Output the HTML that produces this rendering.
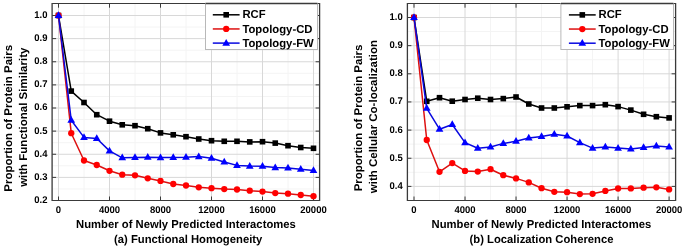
<!DOCTYPE html>
<html><head><meta charset="utf-8"><style>
html,body{margin:0;padding:0;background:#fff;}
body{width:685px;height:249px;overflow:hidden;}
svg{display:block;will-change:transform;} text{text-rendering:geometricPrecision;}
</style></head><body>
<svg width="685" height="249" viewBox="0 0 685 249">
<rect width="685" height="249" fill="#fff"/>
<line x1="84" y1="3.5" x2="84" y2="200.5" stroke="#f4f4f4" stroke-width="1"/>
<line x1="135" y1="3.5" x2="135" y2="200.5" stroke="#f4f4f4" stroke-width="1"/>
<line x1="186" y1="3.5" x2="186" y2="200.5" stroke="#f4f4f4" stroke-width="1"/>
<line x1="237" y1="3.5" x2="237" y2="200.5" stroke="#f4f4f4" stroke-width="1"/>
<line x1="288" y1="3.5" x2="288" y2="200.5" stroke="#f4f4f4" stroke-width="1"/>
<line x1="52.1" y1="188.94" x2="319.6" y2="188.94" stroke="#f4f4f4" stroke-width="1"/>
<line x1="52.1" y1="165.81" x2="319.6" y2="165.81" stroke="#f4f4f4" stroke-width="1"/>
<line x1="52.1" y1="142.69" x2="319.6" y2="142.69" stroke="#f4f4f4" stroke-width="1"/>
<line x1="52.1" y1="119.56" x2="319.6" y2="119.56" stroke="#f4f4f4" stroke-width="1"/>
<line x1="52.1" y1="96.44" x2="319.6" y2="96.44" stroke="#f4f4f4" stroke-width="1"/>
<line x1="52.1" y1="73.31" x2="319.6" y2="73.31" stroke="#f4f4f4" stroke-width="1"/>
<line x1="52.1" y1="50.19" x2="319.6" y2="50.19" stroke="#f4f4f4" stroke-width="1"/>
<line x1="52.1" y1="27.06" x2="319.6" y2="27.06" stroke="#f4f4f4" stroke-width="1"/>
<line x1="58.5" y1="3.5" x2="58.5" y2="200.5" stroke="#d8d8d8" stroke-width="1"/>
<line x1="109.5" y1="3.5" x2="109.5" y2="200.5" stroke="#d8d8d8" stroke-width="1"/>
<line x1="160.5" y1="3.5" x2="160.5" y2="200.5" stroke="#d8d8d8" stroke-width="1"/>
<line x1="211.5" y1="3.5" x2="211.5" y2="200.5" stroke="#d8d8d8" stroke-width="1"/>
<line x1="262.5" y1="3.5" x2="262.5" y2="200.5" stroke="#d8d8d8" stroke-width="1"/>
<line x1="313.5" y1="3.5" x2="313.5" y2="200.5" stroke="#d8d8d8" stroke-width="1"/>
<line x1="52.1" y1="200.5" x2="319.6" y2="200.5" stroke="#d8d8d8" stroke-width="1"/>
<line x1="52.1" y1="177.38" x2="319.6" y2="177.38" stroke="#d8d8d8" stroke-width="1"/>
<line x1="52.1" y1="154.25" x2="319.6" y2="154.25" stroke="#d8d8d8" stroke-width="1"/>
<line x1="52.1" y1="131.12" x2="319.6" y2="131.12" stroke="#d8d8d8" stroke-width="1"/>
<line x1="52.1" y1="108" x2="319.6" y2="108" stroke="#d8d8d8" stroke-width="1"/>
<line x1="52.1" y1="84.88" x2="319.6" y2="84.88" stroke="#d8d8d8" stroke-width="1"/>
<line x1="52.1" y1="61.75" x2="319.6" y2="61.75" stroke="#d8d8d8" stroke-width="1"/>
<line x1="52.1" y1="38.62" x2="319.6" y2="38.62" stroke="#d8d8d8" stroke-width="1"/>
<line x1="52.1" y1="15.5" x2="319.6" y2="15.5" stroke="#d8d8d8" stroke-width="1"/>
<line x1="58.5" y1="200.5" x2="58.5" y2="196.5" stroke="#3a3a3a" stroke-width="1"/>
<line x1="58.5" y1="3.5" x2="58.5" y2="7.7" stroke="#3a3a3a" stroke-width="1"/>
<text transform="translate(58.5,212.7) scale(1,1.02)" font-family="'Liberation Sans', sans-serif" font-weight="bold" font-size="9.5" text-anchor="middle">0</text>
<line x1="109.5" y1="200.5" x2="109.5" y2="196.5" stroke="#3a3a3a" stroke-width="1"/>
<line x1="109.5" y1="3.5" x2="109.5" y2="7.7" stroke="#3a3a3a" stroke-width="1"/>
<text transform="translate(109.5,212.7) scale(1,1.02)" font-family="'Liberation Sans', sans-serif" font-weight="bold" font-size="9.5" text-anchor="middle">4000</text>
<line x1="160.5" y1="200.5" x2="160.5" y2="196.5" stroke="#3a3a3a" stroke-width="1"/>
<line x1="160.5" y1="3.5" x2="160.5" y2="7.7" stroke="#3a3a3a" stroke-width="1"/>
<text transform="translate(160.5,212.7) scale(1,1.02)" font-family="'Liberation Sans', sans-serif" font-weight="bold" font-size="9.5" text-anchor="middle">8000</text>
<line x1="211.5" y1="200.5" x2="211.5" y2="196.5" stroke="#3a3a3a" stroke-width="1"/>
<line x1="211.5" y1="3.5" x2="211.5" y2="7.7" stroke="#3a3a3a" stroke-width="1"/>
<text transform="translate(211.5,212.7) scale(1,1.02)" font-family="'Liberation Sans', sans-serif" font-weight="bold" font-size="9.5" text-anchor="middle">12000</text>
<line x1="262.5" y1="200.5" x2="262.5" y2="196.5" stroke="#3a3a3a" stroke-width="1"/>
<line x1="262.5" y1="3.5" x2="262.5" y2="7.7" stroke="#3a3a3a" stroke-width="1"/>
<text transform="translate(262.5,212.7) scale(1,1.02)" font-family="'Liberation Sans', sans-serif" font-weight="bold" font-size="9.5" text-anchor="middle">16000</text>
<line x1="313.5" y1="200.5" x2="313.5" y2="196.5" stroke="#3a3a3a" stroke-width="1"/>
<line x1="313.5" y1="3.5" x2="313.5" y2="7.7" stroke="#3a3a3a" stroke-width="1"/>
<text transform="translate(313.5,212.7) scale(1,1.02)" font-family="'Liberation Sans', sans-serif" font-weight="bold" font-size="9.5" text-anchor="middle">20000</text>
<line x1="52.1" y1="200.5" x2="56.1" y2="200.5" stroke="#3a3a3a" stroke-width="1"/>
<line x1="319.6" y1="200.5" x2="315.6" y2="200.5" stroke="#3a3a3a" stroke-width="1"/>
<text transform="translate(47.5,202.9) scale(1,1.02)" font-family="'Liberation Sans', sans-serif" font-weight="bold" font-size="9.5" text-anchor="end">0.2</text>
<line x1="52.1" y1="177.38" x2="56.1" y2="177.38" stroke="#3a3a3a" stroke-width="1"/>
<line x1="319.6" y1="177.38" x2="315.6" y2="177.38" stroke="#3a3a3a" stroke-width="1"/>
<text transform="translate(47.5,179.78) scale(1,1.02)" font-family="'Liberation Sans', sans-serif" font-weight="bold" font-size="9.5" text-anchor="end">0.3</text>
<line x1="52.1" y1="154.25" x2="56.1" y2="154.25" stroke="#3a3a3a" stroke-width="1"/>
<line x1="319.6" y1="154.25" x2="315.6" y2="154.25" stroke="#3a3a3a" stroke-width="1"/>
<text transform="translate(47.5,156.65) scale(1,1.02)" font-family="'Liberation Sans', sans-serif" font-weight="bold" font-size="9.5" text-anchor="end">0.4</text>
<line x1="52.1" y1="131.12" x2="56.1" y2="131.12" stroke="#3a3a3a" stroke-width="1"/>
<line x1="319.6" y1="131.12" x2="315.6" y2="131.12" stroke="#3a3a3a" stroke-width="1"/>
<text transform="translate(47.5,133.53) scale(1,1.02)" font-family="'Liberation Sans', sans-serif" font-weight="bold" font-size="9.5" text-anchor="end">0.5</text>
<line x1="52.1" y1="108" x2="56.1" y2="108" stroke="#3a3a3a" stroke-width="1"/>
<line x1="319.6" y1="108" x2="315.6" y2="108" stroke="#3a3a3a" stroke-width="1"/>
<text transform="translate(47.5,110.4) scale(1,1.02)" font-family="'Liberation Sans', sans-serif" font-weight="bold" font-size="9.5" text-anchor="end">0.6</text>
<line x1="52.1" y1="84.88" x2="56.1" y2="84.88" stroke="#3a3a3a" stroke-width="1"/>
<line x1="319.6" y1="84.88" x2="315.6" y2="84.88" stroke="#3a3a3a" stroke-width="1"/>
<text transform="translate(47.5,87.28) scale(1,1.02)" font-family="'Liberation Sans', sans-serif" font-weight="bold" font-size="9.5" text-anchor="end">0.7</text>
<line x1="52.1" y1="61.75" x2="56.1" y2="61.75" stroke="#3a3a3a" stroke-width="1"/>
<line x1="319.6" y1="61.75" x2="315.6" y2="61.75" stroke="#3a3a3a" stroke-width="1"/>
<text transform="translate(47.5,64.15) scale(1,1.02)" font-family="'Liberation Sans', sans-serif" font-weight="bold" font-size="9.5" text-anchor="end">0.8</text>
<line x1="52.1" y1="38.62" x2="56.1" y2="38.62" stroke="#3a3a3a" stroke-width="1"/>
<line x1="319.6" y1="38.62" x2="315.6" y2="38.62" stroke="#3a3a3a" stroke-width="1"/>
<text transform="translate(47.5,41.02) scale(1,1.02)" font-family="'Liberation Sans', sans-serif" font-weight="bold" font-size="9.5" text-anchor="end">0.9</text>
<line x1="52.1" y1="15.5" x2="56.1" y2="15.5" stroke="#3a3a3a" stroke-width="1"/>
<line x1="319.6" y1="15.5" x2="315.6" y2="15.5" stroke="#3a3a3a" stroke-width="1"/>
<text transform="translate(47.5,17.9) scale(1,1.02)" font-family="'Liberation Sans', sans-serif" font-weight="bold" font-size="9.5" text-anchor="end">1.0</text>
<polyline points="58.5,15.5 71.25,91.1 84,102.5 96.75,114.7 109.5,121.2 122.25,124.8 135,125.7 147.75,128.7 160.5,132.9 173.25,134.8 186,136.7 198.75,139 211.5,140.7 224.25,141.3 237,141.3 249.75,141.9 262.5,141.7 275.25,143.1 288,145.7 300.75,147.5 313.5,148.3" fill="none" stroke="#000000" stroke-width="1.5" stroke-linejoin="round"/>
<rect x="55.7" y="12.7" width="5.6" height="5.6" fill="#000000"/>
<rect x="68.45" y="88.3" width="5.6" height="5.6" fill="#000000"/>
<rect x="81.2" y="99.7" width="5.6" height="5.6" fill="#000000"/>
<rect x="93.95" y="111.9" width="5.6" height="5.6" fill="#000000"/>
<rect x="106.7" y="118.4" width="5.6" height="5.6" fill="#000000"/>
<rect x="119.45" y="122" width="5.6" height="5.6" fill="#000000"/>
<rect x="132.2" y="122.9" width="5.6" height="5.6" fill="#000000"/>
<rect x="144.95" y="125.9" width="5.6" height="5.6" fill="#000000"/>
<rect x="157.7" y="130.1" width="5.6" height="5.6" fill="#000000"/>
<rect x="170.45" y="132" width="5.6" height="5.6" fill="#000000"/>
<rect x="183.2" y="133.9" width="5.6" height="5.6" fill="#000000"/>
<rect x="195.95" y="136.2" width="5.6" height="5.6" fill="#000000"/>
<rect x="208.7" y="137.9" width="5.6" height="5.6" fill="#000000"/>
<rect x="221.45" y="138.5" width="5.6" height="5.6" fill="#000000"/>
<rect x="234.2" y="138.5" width="5.6" height="5.6" fill="#000000"/>
<rect x="246.95" y="139.1" width="5.6" height="5.6" fill="#000000"/>
<rect x="259.7" y="138.9" width="5.6" height="5.6" fill="#000000"/>
<rect x="272.45" y="140.3" width="5.6" height="5.6" fill="#000000"/>
<rect x="285.2" y="142.9" width="5.6" height="5.6" fill="#000000"/>
<rect x="297.95" y="144.7" width="5.6" height="5.6" fill="#000000"/>
<rect x="310.7" y="145.5" width="5.6" height="5.6" fill="#000000"/>
<polyline points="58.5,15.5 71.25,133.2 84,160.5 96.75,165 109.5,170.8 122.25,174.7 135,175.3 147.75,178.3 160.5,180.9 173.25,184 186,185.5 198.75,187.3 211.5,188.2 224.25,189.1 237,189.5 249.75,190.7 262.5,191.6 275.25,193.1 288,193.7 300.75,195 313.5,196.2" fill="none" stroke="#dd1010" stroke-width="1.5" stroke-linejoin="round"/>
<circle cx="58.5" cy="15.5" r="3.15" fill="#ff0000"/>
<circle cx="71.25" cy="133.2" r="3.15" fill="#ff0000"/>
<circle cx="84" cy="160.5" r="3.15" fill="#ff0000"/>
<circle cx="96.75" cy="165" r="3.15" fill="#ff0000"/>
<circle cx="109.5" cy="170.8" r="3.15" fill="#ff0000"/>
<circle cx="122.25" cy="174.7" r="3.15" fill="#ff0000"/>
<circle cx="135" cy="175.3" r="3.15" fill="#ff0000"/>
<circle cx="147.75" cy="178.3" r="3.15" fill="#ff0000"/>
<circle cx="160.5" cy="180.9" r="3.15" fill="#ff0000"/>
<circle cx="173.25" cy="184" r="3.15" fill="#ff0000"/>
<circle cx="186" cy="185.5" r="3.15" fill="#ff0000"/>
<circle cx="198.75" cy="187.3" r="3.15" fill="#ff0000"/>
<circle cx="211.5" cy="188.2" r="3.15" fill="#ff0000"/>
<circle cx="224.25" cy="189.1" r="3.15" fill="#ff0000"/>
<circle cx="237" cy="189.5" r="3.15" fill="#ff0000"/>
<circle cx="249.75" cy="190.7" r="3.15" fill="#ff0000"/>
<circle cx="262.5" cy="191.6" r="3.15" fill="#ff0000"/>
<circle cx="275.25" cy="193.1" r="3.15" fill="#ff0000"/>
<circle cx="288" cy="193.7" r="3.15" fill="#ff0000"/>
<circle cx="300.75" cy="195" r="3.15" fill="#ff0000"/>
<circle cx="313.5" cy="196.2" r="3.15" fill="#ff0000"/>
<polyline points="58.5,15.5 71.25,120.3 84,137.4 96.75,138.5 109.5,150.9 122.25,157.8 135,157.4 147.75,157.3 160.5,157.6 173.25,157.4 186,157.3 198.75,156.6 211.5,158.3 224.25,162 237,165.4 249.75,166.1 262.5,166.2 275.25,167.6 288,168 300.75,169.3 313.5,170.5" fill="none" stroke="#0808e0" stroke-width="1.5" stroke-linejoin="round"/>
<polygon points="58.5,11.3 54.65,18.05 62.35,18.05" fill="#0000ff"/>
<polygon points="71.25,116.1 67.4,122.85 75.1,122.85" fill="#0000ff"/>
<polygon points="84,133.2 80.15,139.95 87.85,139.95" fill="#0000ff"/>
<polygon points="96.75,134.3 92.9,141.05 100.6,141.05" fill="#0000ff"/>
<polygon points="109.5,146.7 105.65,153.45 113.35,153.45" fill="#0000ff"/>
<polygon points="122.25,153.6 118.4,160.35 126.1,160.35" fill="#0000ff"/>
<polygon points="135,153.2 131.15,159.95 138.85,159.95" fill="#0000ff"/>
<polygon points="147.75,153.1 143.9,159.85 151.6,159.85" fill="#0000ff"/>
<polygon points="160.5,153.4 156.65,160.15 164.35,160.15" fill="#0000ff"/>
<polygon points="173.25,153.2 169.4,159.95 177.1,159.95" fill="#0000ff"/>
<polygon points="186,153.1 182.15,159.85 189.85,159.85" fill="#0000ff"/>
<polygon points="198.75,152.4 194.9,159.15 202.6,159.15" fill="#0000ff"/>
<polygon points="211.5,154.1 207.65,160.85 215.35,160.85" fill="#0000ff"/>
<polygon points="224.25,157.8 220.4,164.55 228.1,164.55" fill="#0000ff"/>
<polygon points="237,161.2 233.15,167.95 240.85,167.95" fill="#0000ff"/>
<polygon points="249.75,161.9 245.9,168.65 253.6,168.65" fill="#0000ff"/>
<polygon points="262.5,162 258.65,168.75 266.35,168.75" fill="#0000ff"/>
<polygon points="275.25,163.4 271.4,170.15 279.1,170.15" fill="#0000ff"/>
<polygon points="288,163.8 284.15,170.55 291.85,170.55" fill="#0000ff"/>
<polygon points="300.75,165.1 296.9,171.85 304.6,171.85" fill="#0000ff"/>
<polygon points="313.5,166.3 309.65,173.05 317.35,173.05" fill="#0000ff"/>
<path d="M52.1,2.95V201.05M319.6,2.95V201.05" stroke="#3a3a3a" stroke-width="1.3" fill="none"/>
<path d="M52.1,3.5H319.6M52.1,200.5H319.6" stroke="#3a3a3a" stroke-width="1.1" fill="none"/>
<rect x="205.5" y="3.5" width="112" height="46" fill="#fff" stroke="#b8b8b8" stroke-width="1"/>
<line x1="205.5" y1="3.5" x2="317.5" y2="3.5" stroke="#3a3a3a" stroke-width="1.3"/>
<line x1="212.8" y1="14.8" x2="239.6" y2="14.8" stroke="#000000" stroke-width="1.5"/>
<rect x="223.4" y="12" width="5.6" height="5.6" fill="#000000"/>
<text transform="translate(242.4,18.35) scale(1,1.02)" font-family="'Liberation Sans', sans-serif" font-weight="bold" font-size="11.3">RCF</text>
<line x1="212.8" y1="28.95" x2="239.6" y2="28.95" stroke="#dd1010" stroke-width="1.5"/>
<circle cx="226.2" cy="28.95" r="3.15" fill="#ff0000"/>
<text transform="translate(242.4,32.5) scale(1,1.02)" font-family="'Liberation Sans', sans-serif" font-weight="bold" font-size="11.3">Topology-CD</text>
<line x1="212.8" y1="43.1" x2="239.6" y2="43.1" stroke="#0808e0" stroke-width="1.5"/>
<polygon points="226.2,38.9 222.35,45.65 230.05,45.65" fill="#0000ff"/>
<text transform="translate(242.4,46.65) scale(1,1.02)" font-family="'Liberation Sans', sans-serif" font-weight="bold" font-size="11.3">Topology-FW</text>
<text transform="translate(12,118.25) rotate(-90) scale(1.02,1)" font-family="'Liberation Sans', sans-serif" font-weight="bold" font-size="11.27" text-anchor="middle">Proportion of Protein Pairs</text>
<text transform="translate(26.9,117.25) rotate(-90) scale(1.02,1)" font-family="'Liberation Sans', sans-serif" font-weight="bold" font-size="11.27" text-anchor="middle">with Functional Similarity</text>
<text transform="translate(185.95,227.6) scale(1,1.02)" font-family="'Liberation Sans', sans-serif" font-weight="bold" font-size="11.27" text-anchor="middle">Number of Newly Predicted Interactomes</text>
<text transform="translate(188.15,242.6) scale(1,1.02)" font-family="'Liberation Sans', sans-serif" font-weight="bold" font-size="11.27" text-anchor="middle">(a) Functional Homogeneity</text>
<line x1="439.51" y1="3.5" x2="439.51" y2="200.5" stroke="#f4f4f4" stroke-width="1"/>
<line x1="490.53" y1="3.5" x2="490.53" y2="200.5" stroke="#f4f4f4" stroke-width="1"/>
<line x1="541.55" y1="3.5" x2="541.55" y2="200.5" stroke="#f4f4f4" stroke-width="1"/>
<line x1="592.57" y1="3.5" x2="592.57" y2="200.5" stroke="#f4f4f4" stroke-width="1"/>
<line x1="643.59" y1="3.5" x2="643.59" y2="200.5" stroke="#f4f4f4" stroke-width="1"/>
<line x1="407.4" y1="200.47" x2="675.6" y2="200.47" stroke="#f4f4f4" stroke-width="1"/>
<line x1="407.4" y1="172.33" x2="675.6" y2="172.33" stroke="#f4f4f4" stroke-width="1"/>
<line x1="407.4" y1="144.17" x2="675.6" y2="144.17" stroke="#f4f4f4" stroke-width="1"/>
<line x1="407.4" y1="116.02" x2="675.6" y2="116.02" stroke="#f4f4f4" stroke-width="1"/>
<line x1="407.4" y1="87.88" x2="675.6" y2="87.88" stroke="#f4f4f4" stroke-width="1"/>
<line x1="407.4" y1="59.73" x2="675.6" y2="59.73" stroke="#f4f4f4" stroke-width="1"/>
<line x1="407.4" y1="31.58" x2="675.6" y2="31.58" stroke="#f4f4f4" stroke-width="1"/>
<line x1="414" y1="3.5" x2="414" y2="200.5" stroke="#d8d8d8" stroke-width="1"/>
<line x1="465.02" y1="3.5" x2="465.02" y2="200.5" stroke="#d8d8d8" stroke-width="1"/>
<line x1="516.04" y1="3.5" x2="516.04" y2="200.5" stroke="#d8d8d8" stroke-width="1"/>
<line x1="567.06" y1="3.5" x2="567.06" y2="200.5" stroke="#d8d8d8" stroke-width="1"/>
<line x1="618.08" y1="3.5" x2="618.08" y2="200.5" stroke="#d8d8d8" stroke-width="1"/>
<line x1="669.1" y1="3.5" x2="669.1" y2="200.5" stroke="#d8d8d8" stroke-width="1"/>
<line x1="407.4" y1="186.4" x2="675.6" y2="186.4" stroke="#d8d8d8" stroke-width="1"/>
<line x1="407.4" y1="158.25" x2="675.6" y2="158.25" stroke="#d8d8d8" stroke-width="1"/>
<line x1="407.4" y1="130.1" x2="675.6" y2="130.1" stroke="#d8d8d8" stroke-width="1"/>
<line x1="407.4" y1="101.95" x2="675.6" y2="101.95" stroke="#d8d8d8" stroke-width="1"/>
<line x1="407.4" y1="73.8" x2="675.6" y2="73.8" stroke="#d8d8d8" stroke-width="1"/>
<line x1="407.4" y1="45.65" x2="675.6" y2="45.65" stroke="#d8d8d8" stroke-width="1"/>
<line x1="407.4" y1="17.5" x2="675.6" y2="17.5" stroke="#d8d8d8" stroke-width="1"/>
<line x1="414" y1="200.5" x2="414" y2="196.5" stroke="#3a3a3a" stroke-width="1"/>
<line x1="414" y1="3.5" x2="414" y2="7.7" stroke="#3a3a3a" stroke-width="1"/>
<text transform="translate(414,212.7) scale(1,1.02)" font-family="'Liberation Sans', sans-serif" font-weight="bold" font-size="9.5" text-anchor="middle">0</text>
<line x1="465.02" y1="200.5" x2="465.02" y2="196.5" stroke="#3a3a3a" stroke-width="1"/>
<line x1="465.02" y1="3.5" x2="465.02" y2="7.7" stroke="#3a3a3a" stroke-width="1"/>
<text transform="translate(465.02,212.7) scale(1,1.02)" font-family="'Liberation Sans', sans-serif" font-weight="bold" font-size="9.5" text-anchor="middle">4000</text>
<line x1="516.04" y1="200.5" x2="516.04" y2="196.5" stroke="#3a3a3a" stroke-width="1"/>
<line x1="516.04" y1="3.5" x2="516.04" y2="7.7" stroke="#3a3a3a" stroke-width="1"/>
<text transform="translate(516.04,212.7) scale(1,1.02)" font-family="'Liberation Sans', sans-serif" font-weight="bold" font-size="9.5" text-anchor="middle">8000</text>
<line x1="567.06" y1="200.5" x2="567.06" y2="196.5" stroke="#3a3a3a" stroke-width="1"/>
<line x1="567.06" y1="3.5" x2="567.06" y2="7.7" stroke="#3a3a3a" stroke-width="1"/>
<text transform="translate(567.06,212.7) scale(1,1.02)" font-family="'Liberation Sans', sans-serif" font-weight="bold" font-size="9.5" text-anchor="middle">12000</text>
<line x1="618.08" y1="200.5" x2="618.08" y2="196.5" stroke="#3a3a3a" stroke-width="1"/>
<line x1="618.08" y1="3.5" x2="618.08" y2="7.7" stroke="#3a3a3a" stroke-width="1"/>
<text transform="translate(618.08,212.7) scale(1,1.02)" font-family="'Liberation Sans', sans-serif" font-weight="bold" font-size="9.5" text-anchor="middle">16000</text>
<line x1="669.1" y1="200.5" x2="669.1" y2="196.5" stroke="#3a3a3a" stroke-width="1"/>
<line x1="669.1" y1="3.5" x2="669.1" y2="7.7" stroke="#3a3a3a" stroke-width="1"/>
<text transform="translate(669.1,212.7) scale(1,1.02)" font-family="'Liberation Sans', sans-serif" font-weight="bold" font-size="9.5" text-anchor="middle">20000</text>
<line x1="407.4" y1="186.4" x2="411.4" y2="186.4" stroke="#3a3a3a" stroke-width="1"/>
<line x1="675.6" y1="186.4" x2="671.6" y2="186.4" stroke="#3a3a3a" stroke-width="1"/>
<text transform="translate(402.8,188.8) scale(1,1.02)" font-family="'Liberation Sans', sans-serif" font-weight="bold" font-size="9.5" text-anchor="end">0.4</text>
<line x1="407.4" y1="158.25" x2="411.4" y2="158.25" stroke="#3a3a3a" stroke-width="1"/>
<line x1="675.6" y1="158.25" x2="671.6" y2="158.25" stroke="#3a3a3a" stroke-width="1"/>
<text transform="translate(402.8,160.65) scale(1,1.02)" font-family="'Liberation Sans', sans-serif" font-weight="bold" font-size="9.5" text-anchor="end">0.5</text>
<line x1="407.4" y1="130.1" x2="411.4" y2="130.1" stroke="#3a3a3a" stroke-width="1"/>
<line x1="675.6" y1="130.1" x2="671.6" y2="130.1" stroke="#3a3a3a" stroke-width="1"/>
<text transform="translate(402.8,132.5) scale(1,1.02)" font-family="'Liberation Sans', sans-serif" font-weight="bold" font-size="9.5" text-anchor="end">0.6</text>
<line x1="407.4" y1="101.95" x2="411.4" y2="101.95" stroke="#3a3a3a" stroke-width="1"/>
<line x1="675.6" y1="101.95" x2="671.6" y2="101.95" stroke="#3a3a3a" stroke-width="1"/>
<text transform="translate(402.8,104.35) scale(1,1.02)" font-family="'Liberation Sans', sans-serif" font-weight="bold" font-size="9.5" text-anchor="end">0.7</text>
<line x1="407.4" y1="73.8" x2="411.4" y2="73.8" stroke="#3a3a3a" stroke-width="1"/>
<line x1="675.6" y1="73.8" x2="671.6" y2="73.8" stroke="#3a3a3a" stroke-width="1"/>
<text transform="translate(402.8,76.2) scale(1,1.02)" font-family="'Liberation Sans', sans-serif" font-weight="bold" font-size="9.5" text-anchor="end">0.8</text>
<line x1="407.4" y1="45.65" x2="411.4" y2="45.65" stroke="#3a3a3a" stroke-width="1"/>
<line x1="675.6" y1="45.65" x2="671.6" y2="45.65" stroke="#3a3a3a" stroke-width="1"/>
<text transform="translate(402.8,48.05) scale(1,1.02)" font-family="'Liberation Sans', sans-serif" font-weight="bold" font-size="9.5" text-anchor="end">0.9</text>
<line x1="407.4" y1="17.5" x2="411.4" y2="17.5" stroke="#3a3a3a" stroke-width="1"/>
<line x1="675.6" y1="17.5" x2="671.6" y2="17.5" stroke="#3a3a3a" stroke-width="1"/>
<text transform="translate(402.8,19.9) scale(1,1.02)" font-family="'Liberation Sans', sans-serif" font-weight="bold" font-size="9.5" text-anchor="end">1.0</text>
<polyline points="414,17.5 426.75,101.3 439.51,97.7 452.26,101.2 465.02,99.5 477.77,98.2 490.53,99.5 503.29,98.6 516.04,97 528.79,104 541.55,108 554.31,108 567.06,106.8 579.82,105.6 592.57,105.6 605.33,104.7 618.08,106.6 630.84,110.1 643.59,114.3 656.35,116.7 669.1,117.9" fill="none" stroke="#000000" stroke-width="1.5" stroke-linejoin="round"/>
<rect x="411.2" y="14.7" width="5.6" height="5.6" fill="#000000"/>
<rect x="423.95" y="98.5" width="5.6" height="5.6" fill="#000000"/>
<rect x="436.71" y="94.9" width="5.6" height="5.6" fill="#000000"/>
<rect x="449.46" y="98.4" width="5.6" height="5.6" fill="#000000"/>
<rect x="462.22" y="96.7" width="5.6" height="5.6" fill="#000000"/>
<rect x="474.97" y="95.4" width="5.6" height="5.6" fill="#000000"/>
<rect x="487.73" y="96.7" width="5.6" height="5.6" fill="#000000"/>
<rect x="500.49" y="95.8" width="5.6" height="5.6" fill="#000000"/>
<rect x="513.24" y="94.2" width="5.6" height="5.6" fill="#000000"/>
<rect x="526" y="101.2" width="5.6" height="5.6" fill="#000000"/>
<rect x="538.75" y="105.2" width="5.6" height="5.6" fill="#000000"/>
<rect x="551.51" y="105.2" width="5.6" height="5.6" fill="#000000"/>
<rect x="564.26" y="104" width="5.6" height="5.6" fill="#000000"/>
<rect x="577.02" y="102.8" width="5.6" height="5.6" fill="#000000"/>
<rect x="589.77" y="102.8" width="5.6" height="5.6" fill="#000000"/>
<rect x="602.53" y="101.9" width="5.6" height="5.6" fill="#000000"/>
<rect x="615.28" y="103.8" width="5.6" height="5.6" fill="#000000"/>
<rect x="628.04" y="107.3" width="5.6" height="5.6" fill="#000000"/>
<rect x="640.79" y="111.5" width="5.6" height="5.6" fill="#000000"/>
<rect x="653.55" y="113.9" width="5.6" height="5.6" fill="#000000"/>
<rect x="666.3" y="115.1" width="5.6" height="5.6" fill="#000000"/>
<polyline points="414,17.5 426.75,140 439.51,171.8 452.26,163.1 465.02,170.9 477.77,171.6 490.53,169.2 503.29,175.2 516.04,178.4 528.79,182.4 541.55,188.2 554.31,191.8 567.06,192.2 579.82,194.1 592.57,193.8 605.33,190.9 618.08,188.5 630.84,188.4 643.59,187.7 656.35,187.3 669.1,189.4" fill="none" stroke="#dd1010" stroke-width="1.5" stroke-linejoin="round"/>
<circle cx="414" cy="17.5" r="3.15" fill="#ff0000"/>
<circle cx="426.75" cy="140" r="3.15" fill="#ff0000"/>
<circle cx="439.51" cy="171.8" r="3.15" fill="#ff0000"/>
<circle cx="452.26" cy="163.1" r="3.15" fill="#ff0000"/>
<circle cx="465.02" cy="170.9" r="3.15" fill="#ff0000"/>
<circle cx="477.77" cy="171.6" r="3.15" fill="#ff0000"/>
<circle cx="490.53" cy="169.2" r="3.15" fill="#ff0000"/>
<circle cx="503.29" cy="175.2" r="3.15" fill="#ff0000"/>
<circle cx="516.04" cy="178.4" r="3.15" fill="#ff0000"/>
<circle cx="528.79" cy="182.4" r="3.15" fill="#ff0000"/>
<circle cx="541.55" cy="188.2" r="3.15" fill="#ff0000"/>
<circle cx="554.31" cy="191.8" r="3.15" fill="#ff0000"/>
<circle cx="567.06" cy="192.2" r="3.15" fill="#ff0000"/>
<circle cx="579.82" cy="194.1" r="3.15" fill="#ff0000"/>
<circle cx="592.57" cy="193.8" r="3.15" fill="#ff0000"/>
<circle cx="605.33" cy="190.9" r="3.15" fill="#ff0000"/>
<circle cx="618.08" cy="188.5" r="3.15" fill="#ff0000"/>
<circle cx="630.84" cy="188.4" r="3.15" fill="#ff0000"/>
<circle cx="643.59" cy="187.7" r="3.15" fill="#ff0000"/>
<circle cx="656.35" cy="187.3" r="3.15" fill="#ff0000"/>
<circle cx="669.1" cy="189.4" r="3.15" fill="#ff0000"/>
<polyline points="414,17.5 426.75,108.3 439.51,129.2 452.26,124.5 465.02,142.6 477.77,148.3 490.53,147 503.29,143.4 516.04,141.3 528.79,138 541.55,136.4 554.31,134.3 567.06,136 579.82,142.6 592.57,148.1 605.33,146.9 618.08,148.1 630.84,149 643.59,147.4 656.35,145.9 669.1,146.9" fill="none" stroke="#0808e0" stroke-width="1.5" stroke-linejoin="round"/>
<polygon points="414,13.3 410.15,20.05 417.85,20.05" fill="#0000ff"/>
<polygon points="426.75,104.1 422.9,110.85 430.61,110.85" fill="#0000ff"/>
<polygon points="439.51,125 435.66,131.75 443.36,131.75" fill="#0000ff"/>
<polygon points="452.26,120.3 448.41,127.05 456.12,127.05" fill="#0000ff"/>
<polygon points="465.02,138.4 461.17,145.15 468.87,145.15" fill="#0000ff"/>
<polygon points="477.77,144.1 473.92,150.85 481.62,150.85" fill="#0000ff"/>
<polygon points="490.53,142.8 486.68,149.55 494.38,149.55" fill="#0000ff"/>
<polygon points="503.29,139.2 499.44,145.95 507.14,145.95" fill="#0000ff"/>
<polygon points="516.04,137.1 512.19,143.85 519.89,143.85" fill="#0000ff"/>
<polygon points="528.79,133.8 524.94,140.55 532.64,140.55" fill="#0000ff"/>
<polygon points="541.55,132.2 537.7,138.95 545.4,138.95" fill="#0000ff"/>
<polygon points="554.31,130.1 550.46,136.85 558.16,136.85" fill="#0000ff"/>
<polygon points="567.06,131.8 563.21,138.55 570.91,138.55" fill="#0000ff"/>
<polygon points="579.82,138.4 575.97,145.15 583.67,145.15" fill="#0000ff"/>
<polygon points="592.57,143.9 588.72,150.65 596.42,150.65" fill="#0000ff"/>
<polygon points="605.33,142.7 601.48,149.45 609.18,149.45" fill="#0000ff"/>
<polygon points="618.08,143.9 614.23,150.65 621.93,150.65" fill="#0000ff"/>
<polygon points="630.84,144.8 626.99,151.55 634.69,151.55" fill="#0000ff"/>
<polygon points="643.59,143.2 639.74,149.95 647.44,149.95" fill="#0000ff"/>
<polygon points="656.35,141.7 652.5,148.45 660.2,148.45" fill="#0000ff"/>
<polygon points="669.1,142.7 665.25,149.45 672.95,149.45" fill="#0000ff"/>
<path d="M407.4,2.95V201.05M675.6,2.95V201.05" stroke="#3a3a3a" stroke-width="1.3" fill="none"/>
<path d="M407.4,3.5H675.6M407.4,200.5H675.6" stroke="#3a3a3a" stroke-width="1.1" fill="none"/>
<rect x="560.9" y="3.5" width="112.6" height="46" fill="#fff" stroke="#b8b8b8" stroke-width="1"/>
<line x1="560.9" y1="3.5" x2="673.5" y2="3.5" stroke="#3a3a3a" stroke-width="1.3"/>
<line x1="568.9" y1="14.9" x2="595.7" y2="14.9" stroke="#000000" stroke-width="1.5"/>
<rect x="579.5" y="12.1" width="5.6" height="5.6" fill="#000000"/>
<text transform="translate(598.5,18.45) scale(1,1.02)" font-family="'Liberation Sans', sans-serif" font-weight="bold" font-size="11.3">RCF</text>
<line x1="568.9" y1="29.05" x2="595.7" y2="29.05" stroke="#dd1010" stroke-width="1.5"/>
<circle cx="582.3" cy="29.05" r="3.15" fill="#ff0000"/>
<text transform="translate(598.5,32.6) scale(1,1.02)" font-family="'Liberation Sans', sans-serif" font-weight="bold" font-size="11.3">Topology-CD</text>
<line x1="568.9" y1="43.2" x2="595.7" y2="43.2" stroke="#0808e0" stroke-width="1.5"/>
<polygon points="582.3,39 578.45,45.75 586.15,45.75" fill="#0000ff"/>
<text transform="translate(598.5,46.75) scale(1,1.02)" font-family="'Liberation Sans', sans-serif" font-weight="bold" font-size="11.3">Topology-FW</text>
<text transform="translate(362,117.95) rotate(-90) scale(1.02,1)" font-family="'Liberation Sans', sans-serif" font-weight="bold" font-size="11.27" text-anchor="middle">Proportion of Protein Pairs</text>
<text transform="translate(376.9,116.6) rotate(-90) scale(1.02,1)" font-family="'Liberation Sans', sans-serif" font-weight="bold" font-size="11.27" text-anchor="middle">with Cellular Co-localization</text>
<text transform="translate(541.4,227.6) scale(1,1.02)" font-family="'Liberation Sans', sans-serif" font-weight="bold" font-size="11.27" text-anchor="middle">Number of Newly Predicted Interactomes</text>
<text transform="translate(541.55,242.6) scale(1,1.02)" font-family="'Liberation Sans', sans-serif" font-weight="bold" font-size="11.27" text-anchor="middle">(b) Localization Coherence</text>
</svg>
</body></html>
